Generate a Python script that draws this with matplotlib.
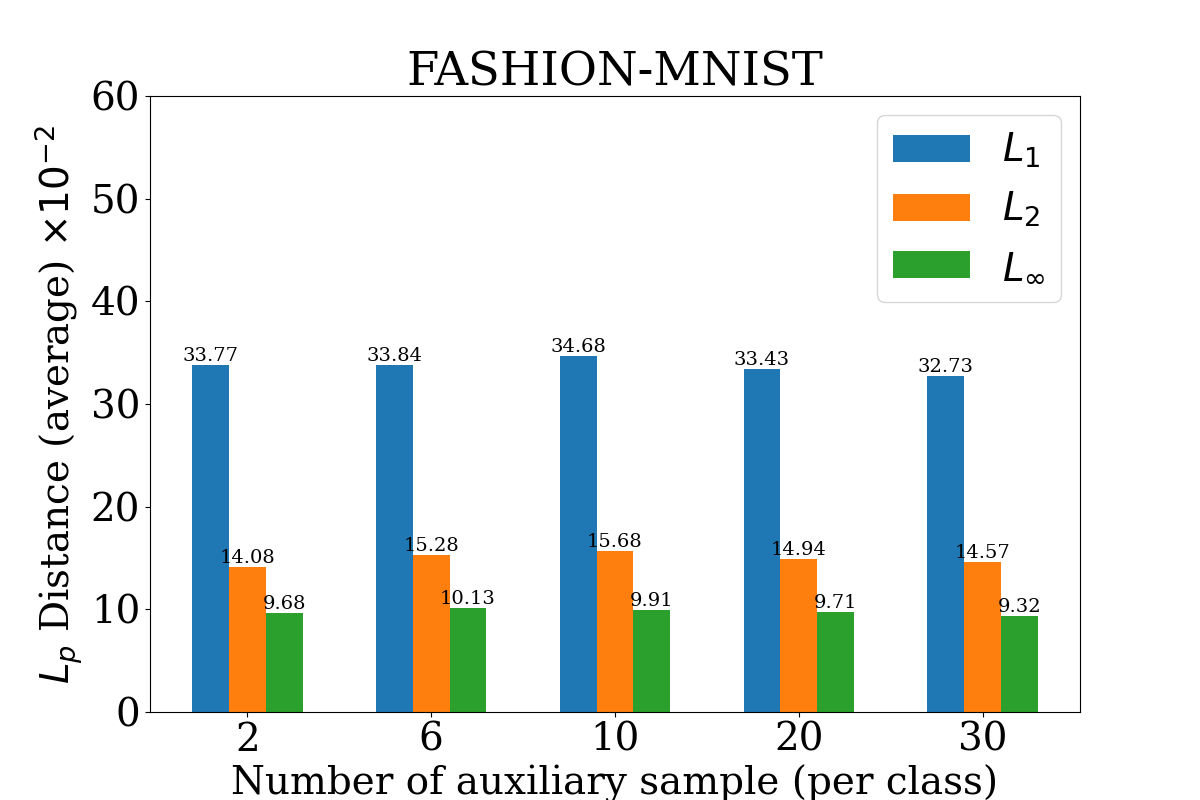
import matplotlib
matplotlib.use('Agg')
import matplotlib.pyplot as plt
import numpy as np

plt.rcParams['font.family'] = 'DejaVu Serif'

# data
samples = ['2', '6', '10', '20', '30']
l1 = [33.77, 33.84, 34.68, 33.43, 32.73]
l2 = [14.08, 15.28, 15.68, 14.94, 14.57]
linf = [9.68, 10.13, 9.91, 9.71, 9.32]

x = np.arange(len(samples))
w = 0.2

fig, ax = plt.subplots(figsize=(12, 8), dpi=100)
b1 = ax.bar(x - w, l1, w, label=r'$L_1$')
b2 = ax.bar(x, l2, w, label=r'$L_2$')
b3 = ax.bar(x + w, linf, w, label=r'$L_\infty$')

for bars in (b1, b2, b3):
    ax.bar_label(bars, labels=[f'{v:.2f}' for v in bars.datavalues], fontsize=14)

ax.set_ylim(0, 60)
ax.set_xticks(x)
ax.set_xticklabels(samples)
ax.tick_params(labelsize=28)
ax.set_title('FASHION-MNIST', fontsize=33.5)
ax.set_xlabel('Number of auxiliary sample (per class)', fontsize=28)
ax.set_ylabel(r'$L_p$ Distance (average) $\times 10^{-2}$', fontsize=28)
ax.legend(prop={'family': 'DejaVu Sans', 'size': 28})

plt.savefig('out.png', dpi=100)
